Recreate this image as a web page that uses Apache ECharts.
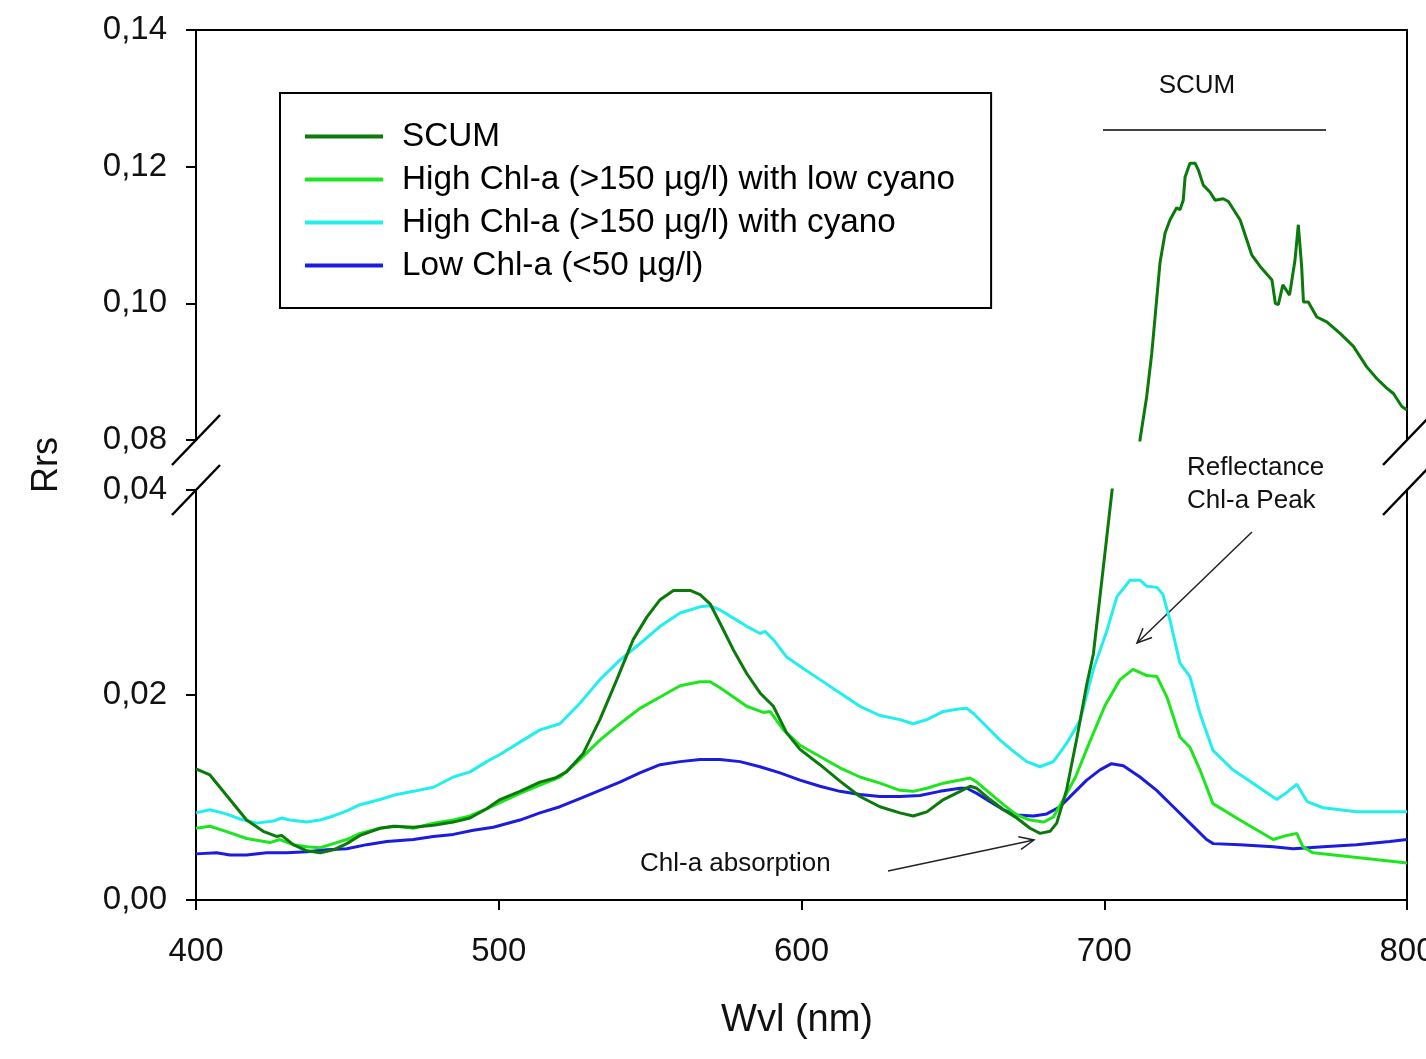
<!DOCTYPE html>
<html><head><meta charset="utf-8">
<script src="https://cdn.jsdelivr.net/npm/echarts@6/dist/echarts.min.js"></script>
<style>html,body{margin:0;padding:0;background:#fff}#c{width:1426px;height:1059px}</style>
</head><body><div id="c"></div>
<script>
// ---- data (wavelength in nm, Rrs) ----
const seriesNames = ['SCUM', 'High Chl-a (>150 µg/l) with low cyano', 'High Chl-a (>150 µg/l) with cyano', 'Low Chl-a (<50 µg/l)'];

const scumWl = [400,404.6,411.2,416.7,422.2,426.6,428.3,432.1,436.6,441,445.4,449.8,454.2,460.8,465.2,471.8,478.4,485,490.5,496,500.4,507,513.6,518.6,522.4,527.9,533.4,539,544.4,548.9,553.3,557.7,563.2,566.5,569.8,573.1,577.5,581.9,586.3,590.7,595.1,599.5,606.1,612.7,619.3,625.9,632.5,636.9,641.4,646.9,652.4,655.7,657.9,662.3,666.7,671.1,675.5,678.8,682.1,684.3,687.6,690.9,694.2,696.4,699.6,702.6,705.5,708.5,711.8,714,715.7,717.3,718.4,720.1,721.7,723.9,725,726.1,726.7,728.3,730,731.1,732.7,734.9,736.6,739.3,741,744.9,748.7,751.5,755.4,756.5,757.5,759,761.2,763,764.1,765.2,765.8,767.4,770.2,773.5,777.9,782.3,786.7,790,793.3,795.5,798.3,800];
const scumRrs = [0.0128,0.0122,0.0098,0.0078,0.0067,0.0062,0.0063,0.0054,0.0048,0.0046,0.0049,0.0055,0.0063,0.0070,0.0072,0.0071,0.0073,0.0076,0.0080,0.0089,0.0098,0.0106,0.0115,0.0119,0.0125,0.0143,0.0176,0.0215,0.0254,0.0276,0.0293,0.0302,0.0302,0.0298,0.0289,0.0270,0.0244,0.0221,0.0202,0.0189,0.0163,0.0147,0.0132,0.0116,0.0101,0.0091,0.0085,0.0082,0.0086,0.0098,0.0106,0.0111,0.0109,0.0098,0.0088,0.0080,0.0070,0.0065,0.0067,0.0075,0.0108,0.0157,0.0210,0.0240,0.0322,0.0400,0.052,0.066,0.0800,0.0863,0.0927,0.1005,0.1059,0.1103,0.1122,0.1140,0.1137,0.1151,0.1185,0.1205,0.1205,0.1195,0.1173,0.1163,0.1151,0.1153,0.1149,0.1122,0.1071,0.1054,0.1034,0.1000,0.0998,0.1027,0.1012,0.1063,0.1115,0.1054,0.1002,0.1002,0.0980,0.0973,0.0956,0.0937,0.0907,0.0890,0.0876,0.0868,0.0849,0.0844];

const lowCyanoWl = [400,404.6,409.9,416.7,424.4,427.7,432.1,436.6,441,445.4,449.8,454.2,460.8,466.3,471.8,478.4,485,490.5,496,500.4,507,513.6,520.2,526.8,533.4,540,546.6,553.3,559.9,566.5,569.8,573.1,577.5,581.9,587.4,589.6,594,599.5,606.1,612.7,619.3,625.9,632.5,636.9,641.4,646.9,652.4,655.7,657.9,662.3,666.7,671.1,675.5,679.9,683.2,686.5,690.5,695.3,700.3,705.2,709.5,714.1,717.4,720.7,725,728.3,731.6,735.9,744.8,755.8,760.3,763.6,765.6,769,785,800];
const lowCyanoRrs = [0.0070,0.0072,0.0067,0.0060,0.0056,0.0059,0.0054,0.0052,0.0051,0.0055,0.0059,0.0065,0.0070,0.0072,0.0070,0.0075,0.0078,0.0082,0.0089,0.0095,0.0104,0.0112,0.0120,0.0137,0.0156,0.0172,0.0187,0.0198,0.0209,0.0213,0.0213,0.0207,0.0198,0.0189,0.0183,0.0184,0.0166,0.0151,0.0140,0.0129,0.0120,0.0114,0.0107,0.0106,0.0109,0.0114,0.0117,0.0119,0.0115,0.0104,0.0093,0.0083,0.0078,0.0076,0.0081,0.0098,0.0120,0.0155,0.0190,0.0215,0.0225,0.0219,0.0218,0.0198,0.0159,0.0149,0.0127,0.0094,0.0078,0.0059,0.0063,0.0065,0.0052,0.0046,0.0041,0.0036];

const cyanoWl = [400,404.6,409.9,414.5,420.1,425.5,428.3,431,436.6,441,445.4,449.8,454.2,460.8,466.3,471.8,478.4,485,490.5,496,500.4,507,513.6,520.2,526.8,533.4,540,546.6,553.3,559.9,566.5,569.8,573.1,577.5,581.9,586.3,588,590.7,595.1,599.5,606.1,612.7,619.3,625.9,632.5,636.9,641.4,646.9,651.3,654.6,656.8,661.2,665.6,670,674.4,678.8,683.2,687.6,692,696.4,700.9,704.2,708.5,711.8,714.1,717.4,719.4,721.7,725,728.3,731.6,735.9,742.5,749.1,757,760.3,763.6,767,772.3,783.3,800];
const cyanoRrs = [0.0085,0.0088,0.0084,0.0079,0.0075,0.0077,0.0080,0.0078,0.0076,0.0078,0.0082,0.0087,0.0093,0.0098,0.0103,0.0106,0.0110,0.0120,0.0125,0.0135,0.0142,0.0154,0.0166,0.0172,0.0192,0.0215,0.0234,0.0250,0.0267,0.0280,0.0286,0.0287,0.0283,0.0275,0.0267,0.0260,0.0262,0.0254,0.0237,0.0228,0.0215,0.0202,0.0189,0.0180,0.0176,0.0172,0.0176,0.0184,0.0186,0.0187,0.0182,0.0169,0.0156,0.0145,0.0135,0.0130,0.0135,0.0153,0.0175,0.0225,0.0263,0.0296,0.0312,0.0312,0.0306,0.0305,0.0298,0.0273,0.0231,0.0218,0.0182,0.0146,0.0127,0.0114,0.0098,0.0105,0.0113,0.0096,0.0090,0.0086,0.0086];

const lowChlWl = [400,406.8,411.2,416.7,423.3,429.9,436.6,443.2,449.8,456.4,463,471.8,478.4,485,491.6,498.2,507,513.6,520.2,526.8,533.4,540,546.6,553.3,559.9,566.5,573.1,579.7,586.3,592.9,599.5,606.1,612.7,619.3,625.9,632.5,639.1,645.7,652.4,654.6,657.9,662.3,666.7,671.1,676.6,681,685.4,689.8,694.2,698.6,702.4,706.3,711.8,717.3,722.8,728.3,733.8,736,744.8,755.8,762.4,772.3,783.3,794.3,800];
const lowChlRrs = [0.0045,0.0046,0.0044,0.0044,0.0046,0.0046,0.0047,0.0049,0.0050,0.0054,0.0057,0.0059,0.0062,0.0064,0.0068,0.0071,0.0078,0.0085,0.0091,0.0099,0.0107,0.0115,0.0124,0.0132,0.0135,0.0137,0.0137,0.0135,0.0130,0.0124,0.0117,0.0111,0.0106,0.0103,0.0101,0.0101,0.0102,0.0106,0.0109,0.0109,0.0104,0.0096,0.0088,0.0083,0.0082,0.0084,0.0091,0.0104,0.0117,0.0127,0.0133,0.0131,0.0120,0.0107,0.0091,0.0075,0.0059,0.0055,0.0054,0.0052,0.0050,0.0052,0.0054,0.0057,0.0059];

const xTicks = [400, 500, 600, 700, 800];
const yTicksLower = [0, 0.02, 0.04];
const yTicksUpper = [0.08, 0.10, 0.12, 0.14];

// ---- build ----
const zip = (a, b) => a.map((x, i) => [x, b[i]]);
const colors = ['#0a7a0a', '#1ee61e', '#22eeee', '#1c1ce0'];
const FONT = '"Liberation Sans", Arial, Helvetica, sans-serif';
const fmt = v => v.toFixed(2).replace('.', ',');

const W = 1426, H = 1059;
const gL = 196, gR = 19;
const topGrid = {left: gL, right: gR, top: 30, height: 410, containLabel: false, outerBoundsMode: 'none'};
const botGrid = {left: gL, right: gR, top: 490, height: 410, containLabel: false, outerBoundsMode: 'none'};

const axisLine = {show: true, lineStyle: {color: '#000', width: 2}};
const xMin = xTicks[0], xMax = xTicks[xTicks.length - 1], xInt = xTicks[1] - xTicks[0];

function lineSeries(name, data, idx, grid) {
  return {
    type: 'line', name, data, xAxisIndex: grid, yAxisIndex: grid * 2,
    symbol: 'none', showSymbol: false, clip: true, animation: false,
    lineStyle: {color: colors[idx], width: 3}, itemStyle: {color: colors[idx]},
    emphasis: {disabled: true}, z: 3 - idx
  };
}

const scumData = zip(scumWl, scumRrs);
const series = [
  lineSeries(seriesNames[0], scumData, 0, 1),
  lineSeries(seriesNames[1], zip(lowCyanoWl, lowCyanoRrs), 1, 1),
  lineSeries(seriesNames[2], zip(cyanoWl, cyanoRrs), 2, 1),
  lineSeries(seriesNames[3], zip(lowChlWl, lowChlRrs), 3, 1),
  lineSeries(seriesNames[0], scumData, 0, 0)
];

function arrow(x1, y1, x2, y2) {
  const a = Math.atan2(y2 - y1, x2 - x1), L = 16, s = 0.42;
  return [
    {type: 'line', shape: {x1, y1, x2, y2}, style: {stroke: '#222', lineWidth: 1.5}},
    {type: 'polyline', shape: {points: [[x2 - L * Math.cos(a - s), y2 - L * Math.sin(a - s)], [x2, y2], [x2 - L * Math.cos(a + s), y2 - L * Math.sin(a + s)]]},
     style: {stroke: '#222', lineWidth: 1.5, fill: null}}
  ];
}
function brk(cx, cy) {
  return {type: 'line', shape: {x1: cx - 24, y1: cy + 25, x2: cx + 24, y2: cy - 25}, style: {stroke: '#000', lineWidth: 2.5}, z: 10};
}
const txt = (x, y, text, size, align, extra) => Object.assign({type: 'text', x, y, style: {text, fill: '#111', fontSize: size, fontFamily: FONT, align: align || 'left', verticalAlign: 'middle'}, z: 10}, extra || {});

const topY = topGrid.top + topGrid.height, botY = botGrid.top;
const xR = W - gR;

const option = {
  backgroundColor: '#fff',
  animation: false,
  grid: [topGrid, botGrid],
  xAxis: [
    {gridIndex: 0, type: 'value', min: xMin, max: xMax, interval: xInt, position: 'top',
     axisLine, axisTick: {show: false}, axisLabel: {show: false}, splitLine: {show: false}},
    {gridIndex: 1, type: 'value', min: xMin, max: xMax, interval: xInt, position: 'bottom',
     axisLine, axisTick: {show: true, length: 10, lineStyle: {color: '#000', width: 2}},
     axisLabel: {color: '#111', fontSize: 33, fontFamily: FONT, margin: 35, hideOverlap: false}, splitLine: {show: false}}
  ],
  yAxis: [
    {gridIndex: 0, type: 'value', min: yTicksUpper[0], max: yTicksUpper[yTicksUpper.length - 1], interval: 0.02, position: 'left',
     axisLine, axisTick: {show: true, length: 10, lineStyle: {color: '#000', width: 2}},
     axisLabel: {color: '#111', fontSize: 33, fontFamily: FONT, margin: 29, formatter: fmt}, splitLine: {show: false}},
    {gridIndex: 0, type: 'value', min: yTicksUpper[0], max: yTicksUpper[yTicksUpper.length - 1], interval: 0.02, position: 'right',
     axisLine, axisTick: {show: false}, axisLabel: {show: false}, splitLine: {show: false}},
    {gridIndex: 1, type: 'value', min: yTicksLower[0], max: yTicksLower[yTicksLower.length - 1], interval: 0.02, position: 'left',
     axisLine, axisTick: {show: true, length: 10, lineStyle: {color: '#000', width: 2}},
     axisLabel: {color: '#111', fontSize: 33, fontFamily: FONT, margin: 29, formatter: fmt}, splitLine: {show: false}},
    {gridIndex: 1, type: 'value', min: yTicksLower[0], max: yTicksLower[yTicksLower.length - 1], interval: 0.02, position: 'right',
     axisLine, axisTick: {show: false}, axisLabel: {show: false}, splitLine: {show: false}}
  ],
  legend: {
    data: seriesNames, orient: 'vertical', left: 280, top: 93,
    padding: [27, 36, 26, 25], itemGap: 10, itemWidth: 78, itemHeight: 4, icon: 'rect',
    borderColor: '#000', borderWidth: 2, backgroundColor: '#fff',
    textStyle: {fontSize: 33.3, color: '#000', fontFamily: FONT, padding: [0, 0, 0, 14]},
    selectedMode: false
  },
  series,
  graphic: [
    brk(gL, topY), brk(gL, botY), brk(xR, topY), brk(xR, botY),
    txt(1197, 86, 'SCUM', 26, 'center'),
    {type: 'line', shape: {x1: 1103, y1: 130, x2: 1326, y2: 130}, style: {stroke: '#444', lineWidth: 2}},
    txt(1187, 468, 'Reflectance', 26, 'left'),
    txt(1187, 501, 'Chl-a Peak', 26, 'left'),
    ...arrow(1252, 532, 1137, 643),
    txt(640, 864, 'Chl-a absorption', 26, 'left'),
    ...arrow(888, 871, 1034, 840),
    txt(47, 465, 'Rrs', 36, 'center', {rotation: Math.PI / 2}),
    txt(797, 1021, 'Wvl (nm)', 38, 'center')
  ]
};

const chart = echarts.init(document.getElementById('c'), null, {renderer: 'canvas'});
chart.setOption(option);
</script>
</body></html>
